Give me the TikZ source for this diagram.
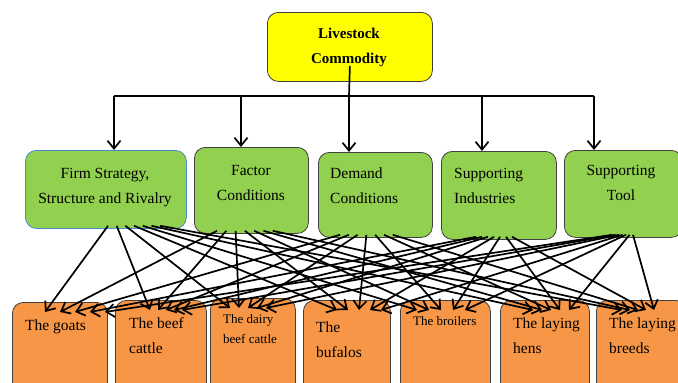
\documentclass[tikz,border=0pt]{standalone}
\usepackage{fontspec}
\setmainfont{Liberation Serif}
\usetikzlibrary{arrows.meta,calc,positioning}
\definecolor{topyellow}{RGB}{255,255,0}
\definecolor{leafgreen}{RGB}{146,208,80}
\definecolor{boxorange}{RGB}{247,150,70}
\definecolor{firmblue}{RGB}{70,140,205}

\begin{document}
\begin{tikzpicture}[x=1pt,y=-1pt,
  nbase/.style={draw=black!75, line width=0.8pt, rounded corners=11pt, inner sep=0pt, anchor=north west},
  ntop/.style={nbase, fill=topyellow},
  nfac/.style={nbase, fill=leafgreen},
  nlive/.style={nbase, fill=boxorange},
  tbig/.style={inner sep=0pt, font=\fontsize{15.5}{25}\selectfont},
  tbold/.style={inner sep=0pt, font=\fontsize{15}{25}\selectfont\bfseries},
  tsmall/.style={inner sep=0pt, font=\fontsize{13}{20}\selectfont},
  conn/.style={line width=1.7pt, -{Straight Barb[length=8pt,width=13pt]}}
 ]
  \useasboundingbox (0,0) rectangle (678,383);

  % commodity
  \node [ntop, minimum width=165pt, minimum height=69pt] (top) at (267,12) {};
  \node [tbold, align=center, anchor=north] (toptext) at (349,28) {Livestock\\Commodity};

  % the five factors
  \node [nfac, draw=firmblue, minimum width=161pt, minimum height=78pt] (g1) at (25,150) {};
  \node [nfac, minimum width=114pt, minimum height=86pt] (g2) at (194,147) {};
  \node [nfac, minimum width=114pt, minimum height=85pt] (g3) at (318,152) {};
  \node [nfac, minimum width=115pt, minimum height=88pt] (g4) at (441,151) {};
  \node [nfac, minimum width=118pt, minimum height=87pt] (g5) at (564,150) {};
  \node [tbig, align=center, anchor=north] (g1t) at (105,168) {Firm Strategy,\\Structure and Rivalry};
  \node [tbig, align=center, anchor=north] (g2t) at (251,165) {Factor\\Conditions};
  \node [tbig, align=left, anchor=north west] (g3t) at (330,168) {Demand\\Conditions};
  \node [tbig, align=left, anchor=north west] (g4t) at (454,168) {Supporting\\Industries};
  \node [tbig, align=center, anchor=north] (g5t) at (621,165) {Supporting\\Tool};

  % the livestock
  \foreach \n/\bx/\by/\w in {o1/12/302/95, o2/115/300/91, o3/210/298/85, o4/303/300/87,
                             o5/400/300/90, o6/500/300/89, o7/596/300/90}
   \node [nlive, minimum width=\w pt, minimum height=100pt] (\n) at (\bx,\by) {};
  \node [tbig, anchor=north west] (o1t) at (25,320) {The goats};
  \node [tbig, align=left, anchor=north west] (o2t) at (129,317) {The beef\\cattle};
  \node [tsmall, align=left, anchor=north west] (o3t) at (223,314) {The dairy\\beef cattle};
  \node [tbig, align=left, anchor=north west] (o4t) at (316,322) {The\\bufalos};
  \node [tsmall, anchor=north west] (o5t) at (413,316) {The broilers};
  \node [tbig, align=left, anchor=north west] (o6t) at (513,318) {The laying\\hens};
  \node [tbig, align=left, anchor=north west] (o7t) at (609,318) {The laying\\breeds};

  % tree from the commodity
  \coordinate (hub) at (349,96);
  \coordinate (busl) at (114,96);
  \coordinate (busr) at (594,96);
  \draw [line width=1.7pt] ($(top.south)+(0,-16)$) -- (hub);
  \draw [line width=1.7pt] (busl) -- (busr);
  \foreach \g/\dx in {g1/114, g2/241, g3/349, g4/482, g5/594} {
   \coordinate (d\g) at (\dx,96);
   \draw [conn] (d\g) -- (d\g |- \g.north);
  }

  % every factor to every livestock
  \foreach \g/\gx/\gd [count=\i] in {g1/83/8.7, g2/23/9.3, g3/22/8.8, g4/35/6, g5/48/3.5}
   \foreach \o/\ox/\od [count=\j] in {o1/33/15, o2/35/8, o3/20/9, o4/34/11, o5/17/12, o6/33/9, o7/26/8}
    \draw [conn] ($(\g.south west)+({\gx+\gd*(\j-1)},-3)$) -- ($(\o.north west)+({\ox+\od*(\i-1)},10)$);
\end{tikzpicture}
\end{document}
